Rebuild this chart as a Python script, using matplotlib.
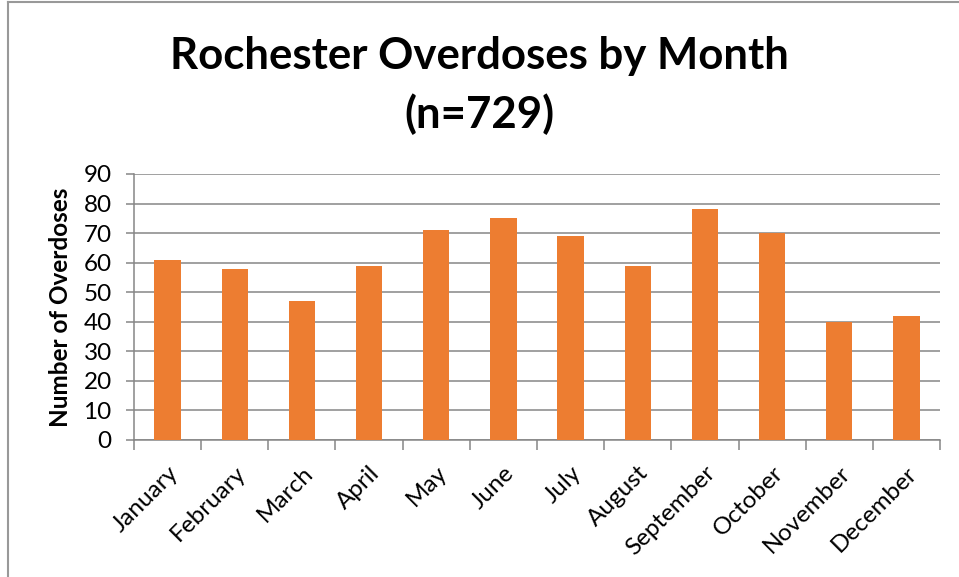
import numpy as np
import matplotlib.pyplot as plt
from matplotlib.lines import Line2D

months = ["January", "February", "March", "April", "May", "June",
          "July", "August", "September", "October", "November", "December"]
overdoses = [61, 58, 47, 59, 71, 75, 69, 59, 78, 70, 40, 42]
yticks = [0, 10, 20, 30, 40, 50, 60, 70, 80, 90]

plt.rcParams['font.family'] = ['Lato', 'DejaVu Sans']

fig = plt.figure(figsize=(9.59, 5.77), dpi=100)
ax = fig.add_axes([134 / 959, 1 - 440 / 577, (940 - 134) / 959, (440 - 174) / 577])

x = np.arange(len(months))
ax.bar(x, overdoses, width=0.39, color="#ED7D31", zorder=3)

ax.set_xlim(-0.5, len(months) - 0.5)
ax.set_ylim(0, 90)
ax.set_yticks(yticks)
ax.set_yticklabels([str(v) for v in yticks], fontsize=17.5)
ax.yaxis.grid(True, color="#868686", linewidth=1.1, zorder=0)

# category ticks sit between the bars, labels centred under each bar
ax.set_xticks(np.arange(-0.5, len(months), 1.0))
ax.set_xticklabels([])
ax.set_xticks(x, minor=True)
ax.set_xticklabels(months, minor=True, rotation=45, ha="right",
                   rotation_mode="anchor", fontsize=17.5)
ax.tick_params(axis="x", which="minor", length=0, pad=16)
ax.tick_params(axis="x", which="major", length=7, color="#868686", width=1.1)
ax.tick_params(axis="y", length=6, color="#868686", width=1.1, pad=10)

for s in ["top", "right"]:
    ax.spines[s].set_visible(False)
for s in ["left", "bottom"]:
    ax.spines[s].set_color("#868686")
    ax.spines[s].set_linewidth(1.1)

ax.set_ylabel("Number of Overdoses", fontsize=17.5, fontweight="bold", labelpad=8)

fig.text(0.5, 1 - 56 / 577, "Rochester Overdoses by Month", ha="center", va="center",
         fontsize=31.5, fontweight="bold")
fig.text(0.5, 1 - 114 / 577, "(n=729)", ha="center", va="center",
         fontsize=31.5, fontweight="bold")

# chart-area border (left and top edges visible in the crop)
fig.add_artist(Line2D([8 / 959, 8 / 959], [0, 1 - 2 / 577], transform=fig.transFigure,
                      color="#999999", linewidth=1.5))
fig.add_artist(Line2D([8 / 959, 1], [1 - 2 / 577, 1 - 2 / 577], transform=fig.transFigure,
                      color="#999999", linewidth=1.5))

fig.savefig("out.png", dpi=100, facecolor="white")
